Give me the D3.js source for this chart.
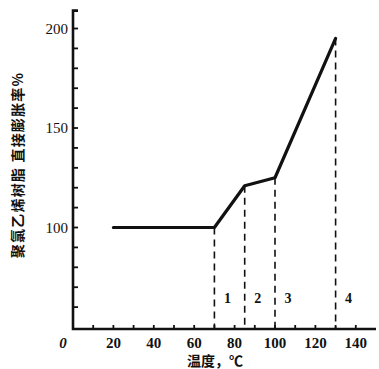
<!DOCTYPE html>
<html><head><meta charset="utf-8">
<script src="https://cdn.jsdelivr.net/npm/d3@7"></script>
<style>body{margin:0;background:#fff}svg{display:block}</style>
</head><body>
<script>
const tempC = [20, 70, 85, 100, 130];
const expansion = [100, 100, 121, 125, 195];
const markerTemps = [70, 85, 100, 130];
const markerValues = [100, 121, 125, 195];
const markerLabels = ["1", "2", "3", "4"];
const xTickLabels = [20, 40, 60, 80, 100, 120, 140];
const xMinorTicks = [10, 20, 30, 40, 50, 60, 70, 80, 90, 100, 110, 120, 130, 140];
const yTickLabels = [100, 150, 200];
const yMinorTicks = [60, 70, 80, 90, 100, 110, 120, 130, 140, 150, 160, 170, 180, 190, 200];
const xTitle = "温度，℃";
const yTitle = "聚氯乙烯树脂 直接膨胀率%";

const W = 379, H = 369;
const svg = d3.select("body").append("svg").attr("width", W).attr("height", H);
const x = d3.scaleLinear().domain([0, 150]).range([73, 376]);
const y = d3.scaleLinear().domain([49, 209]).range([329, 10.6]);
const serif = "'Liberation Serif', 'DejaVu Serif', serif";
const cjk = "'Noto Sans CJK SC', sans-serif";

// dashed drop lines
svg.selectAll("line.drop").data(markerTemps).enter().append("line")
  .attr("x1", d => x(d)).attr("x2", d => x(d))
  .attr("y1", (d, i) => y(markerValues[i])).attr("y2", y(49))
  .attr("stroke", "#111").attr("stroke-width", 1.6).attr("stroke-dasharray", "7,5");

// marker labels
svg.selectAll("text.mk").data(markerTemps).enter().append("text")
  .attr("x", d => x(d) + 13).attr("y", 303)
  .attr("text-anchor", "middle").attr("font-family", serif).attr("font-size", 14)
  .attr("font-weight", "bold").attr("fill", "#111").text((d, i) => markerLabels[i]);

// data line
const pts = tempC.map((t, i) => [t, expansion[i]]);
svg.append("path").datum(pts)
  .attr("d", d3.line().x(d => x(d[0])).y(d => y(d[1])))
  .attr("fill", "none").attr("stroke", "#111").attr("stroke-width", 3.2)
  .attr("stroke-linejoin", "round").attr("stroke-linecap", "round");

// axes
const ax = svg.append("g").attr("stroke", "#111").attr("fill", "none");
ax.append("path").attr("d", `M${x(0)+5},${y(209)} L${x(0)},${y(209)} L${x(0)},${y(49)} L${x(150)},${y(49)}`)
  .attr("stroke-width", 2.6);
ax.selectAll("line.yt").data(yMinorTicks).enter().append("line")
  .attr("x1", x(0)).attr("x2", x(0) + 5).attr("y1", d => y(d)).attr("y2", d => y(d)).attr("stroke-width", 1.8);
ax.selectAll("line.xt").data(xMinorTicks).enter().append("line")
  .attr("x1", d => x(d)).attr("x2", d => x(d)).attr("y1", y(49)).attr("y2", y(49) - 4).attr("stroke-width", 1.8);

svg.selectAll("text.yl").data(yTickLabels).enter().append("text")
  .attr("x", x(0) - 5).attr("y", d => y(d) + 5).attr("text-anchor", "end")
  .attr("font-family", serif).attr("font-size", 15).attr("fill", "#111").text(d => d);
svg.selectAll("text.xl").data(xTickLabels).enter().append("text")
  .attr("x", d => x(d)).attr("y", 348).attr("text-anchor", "middle")
  .attr("font-family", serif).attr("font-size", 15).attr("font-weight", "bold").attr("fill", "#111").text(d => d);
svg.append("text").attr("x", x(0) - 10).attr("y", 348).attr("text-anchor", "middle")
  .attr("font-family", serif).attr("font-size", 15).attr("font-style", "italic").attr("font-weight", "bold")
  .attr("fill", "#111").text("0");

svg.append("text").attr("x", 215).attr("y", 366).attr("text-anchor", "middle")
  .attr("font-family", cjk).attr("font-size", 14).attr("font-weight", "bold").attr("fill", "#111").text(xTitle);
svg.append("text").attr("transform", "translate(23,165) rotate(-90)").attr("text-anchor", "middle")
  .attr("font-family", cjk).attr("font-size", 14).attr("letter-spacing", 1.2).attr("font-weight", "bold").attr("fill", "#111").text(yTitle);
</script>
</body></html>
